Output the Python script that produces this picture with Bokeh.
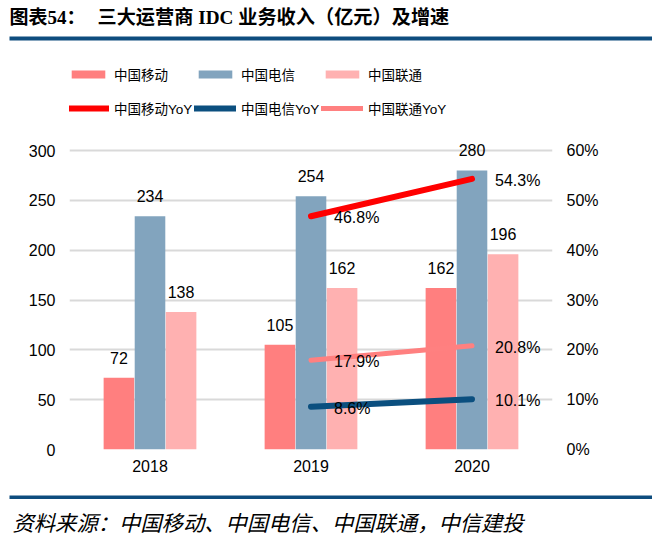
from bokeh.plotting import figure
from bokeh.layouts import column
from bokeh.models import (FactorRange, Range1d, LinearAxis, ColumnDataSource, Label,
                          BoxAnnotation, Legend, LegendItem, FixedTicker, PrintfTickFormatter)
from bokeh.transform import dodge
from bokeh.core.properties import value
from bokeh.embed import file_html
from bokeh.resources import INLINE

# ---------------- data ----------------
years = ["2018", "2019", "2020"]
mobile = [72, 105, 162]
telecom = [234, 254, 280]
unicom = [138, 162, 196]

yoy_years = ["2019", "2020"]
mobile_yoy = [46.8, 54.3]
telecom_yoy = [8.6, 10.1]
unicom_yoy = [17.9, 20.8]

left_ticks = [0, 50, 100, 150, 200, 250, 300]
right_ticks = [0, 10, 20, 30, 40, 50, 60]

series_names = ["中国移动", "中国电信", "中国联通"]
line_names = ["中国移动YoY", "中国电信YoY", "中国联通YoY"]
title_a = "图表54："
title_b = "三大运营商 IDC 业务收入（亿元）及增速"
source_text = "资料来源：中国移动、中国电信、中国联通，中信建投"

# ---------------- style ----------------
C_MOB = "#FF7F7F"
C_TEL = "#82A4BE"
C_UNI = "#FFB1B1"
L_MOB = "#FF0000"
L_TEL = "#0B4F7F"
L_UNI = "#FF8080"
NAVY = "#0E4D7E"
NUM_FONT = "Liberation Sans, Noto Sans CJK SC"
CJK_FONT = "Noto Sans CJK SC"
TITLE_FONT = "Liberation Serif, Noto Sans CJK SC"
FS = "16px"

W_ALL = 652
H_HEAD = 44
H_MAIN = 446
H_FOOT = 52

F_LEFT, F_RIGHT = 69, 552
F_TOP_PAGE = H_HEAD
Y0_PAGE, Y300_PAGE = 449, 150
YMAX = 300.0 * (Y0_PAGE - F_TOP_PAGE) / (Y0_PAGE - Y300_PAGE)

def blank_fig(h):
    f = figure(width=W_ALL, height=h, x_range=Range1d(0, W_ALL), y_range=Range1d(0, h),
               x_axis_location=None, y_axis_location=None, min_border=0,
               output_backend="svg", toolbar_location=None)
    f.grid.visible = False
    f.outline_line_color = None
    f.background_fill_color = "white"
    f.border_fill_color = "white"
    return f

# ---------------- header ----------------
ph = blank_fig(H_HEAD)
ph.add_layout(Label(x=9, y=H_HEAD - 17, text=title_a, text_font=TITLE_FONT,
                    text_font_style="bold", text_font_size="19px",
                    text_baseline="middle", text_color="black"))
ph.add_layout(Label(x=97, y=H_HEAD - 17, text=title_b, text_font=TITLE_FONT,
                    text_font_style="bold", text_font_size="19.2px",
                    text_baseline="middle", text_color="black"))
ph.add_layout(BoxAnnotation(left=9, right=W_ALL, top=H_HEAD - 36, bottom=H_HEAD - 40,
                            fill_color=NAVY, fill_alpha=1, line_color=None))

# ---------------- main ----------------
bar_src = ColumnDataSource(dict(
    year=years, mobile=mobile, telecom=telecom, unicom=unicom,
    mobile_lbl=[str(v) for v in mobile],
    telecom_lbl=[str(v) for v in telecom],
    unicom_lbl=[str(v) for v in unicom],
))

p = figure(x_range=FactorRange(*years), y_range=Range1d(0, YMAX),
           width=W_ALL, height=H_MAIN, output_backend="svg", toolbar_location=None,
           min_border_left=F_LEFT, min_border_right=W_ALL - F_RIGHT,
           min_border_top=0, min_border_bottom=H_HEAD + H_MAIN - Y0_PAGE)
p.outline_line_color = None
p.background_fill_color = "white"
p.border_fill_color = "white"
p.xgrid.visible = False
p.ygrid.grid_line_color = "#D9D9D9"
p.ygrid.grid_line_width = 2
p.ygrid.ticker = FixedTicker(ticks=left_ticks)

p.extra_y_ranges = {"pct": Range1d(0, YMAX / 5.0)}

def style_axis(ax, standoff):
    ax.axis_line_color = None
    ax.major_tick_line_color = None
    ax.minor_tick_line_color = None
    ax.major_tick_out = 0
    ax.major_tick_in = 0
    ax.major_label_standoff = standoff
    ax.major_label_text_font = NUM_FONT
    ax.major_label_text_font_size = FS
    ax.major_label_text_color = "black"

ya = p.yaxis[0]
ya.ticker = FixedTicker(ticks=left_ticks)
style_axis(ya, 14)

ra = LinearAxis(y_range_name="pct", ticker=FixedTicker(ticks=right_ticks),
                formatter=PrintfTickFormatter(format="%d%%"))
style_axis(ra, 14)
p.add_layout(ra, "right")

style_axis(p.xaxis[0], 10)

# bars
W = 0.19
OFF = 0.193
r_mob = p.vbar(x=dodge("year", -OFF, range=p.x_range), top="mobile", width=W,
               source=bar_src, fill_color=C_MOB, line_color=None)
r_tel = p.vbar(x=dodge("year", 0, range=p.x_range), top="telecom", width=W,
               source=bar_src, fill_color=C_TEL, line_color=None)
r_uni = p.vbar(x=dodge("year", OFF, range=p.x_range), top="unicom", width=W,
               source=bar_src, fill_color=C_UNI, line_color=None)

for off, col in [(-OFF, "mobile"), (0, "telecom"), (OFF, "unicom")]:
    p.text(x=dodge("year", off, range=p.x_range), y=col, text=col + "_lbl", source=bar_src,
           text_align="center", text_baseline="middle", y_offset=-20,
           text_font=value(NUM_FONT), text_font_size=FS, text_color="black")

# lines
line_rs = []
for vals, colr, lw in [(mobile_yoy, L_MOB, 6), (telecom_yoy, L_TEL, 6), (unicom_yoy, L_UNI, 5)]:
    src = ColumnDataSource(dict(year=yoy_years, v=vals, lbl=["%.1f%%" % v for v in vals]))
    r = p.line(x="year", y="v", source=src, y_range_name="pct",
               line_color=colr, line_width=lw, line_cap="round")
    line_rs.append((r, src))
for r, src in line_rs:
    p.text(x="year", y="v", text="lbl", source=src, y_range_name="pct",
           text_align="left", text_baseline="middle", x_offset=23, y_offset=1.5,
           text_font=value(NUM_FONT), text_font_size=FS, text_color="black")

def add_legend(label, renderer, page_x, page_cy, gh):
    lg = Legend(items=[LegendItem(label=label, renderers=[renderer])],
                location=(page_x - F_LEFT, Y0_PAGE - page_cy - 10),
                padding=0, margin=0, spacing=0,
                glyph_width=42, glyph_height=gh, label_height=20,
                label_standoff=5, border_line_color=None, background_fill_alpha=0,
                label_text_font=NUM_FONT, label_text_font_size="13.5px",
                label_text_color="black")
    p.add_layout(lg, "center")

xs = [67, 194, 321]
for nm, r, x in zip(series_names, [r_mob, r_tel, r_uni], xs):
    add_legend(nm, r, x, 74, 10)
for nm, (r, _), x in zip(line_names, line_rs, xs):
    add_legend(nm, r, x, 108, 20)

# ---------------- footer ----------------
pf = blank_fig(H_FOOT)
top_f = H_HEAD + H_MAIN
pf.add_layout(BoxAnnotation(left=9, right=W_ALL, top=H_FOOT - (495 - top_f),
                            bottom=H_FOOT - (498.5 - top_f),
                            fill_color=NAVY, fill_alpha=1, line_color=None))
pf.add_layout(Label(x=12, y=H_FOOT - (521 - top_f), text=source_text, text_font=CJK_FONT,
                    text_font_style="italic", text_font_size="21.3px",
                    text_baseline="middle", text_color="black"))

layout = column(column(ph, spacing=0), p, column(pf, spacing=0), spacing=0)
open("out.html", "w").write(file_html(layout, INLINE))
